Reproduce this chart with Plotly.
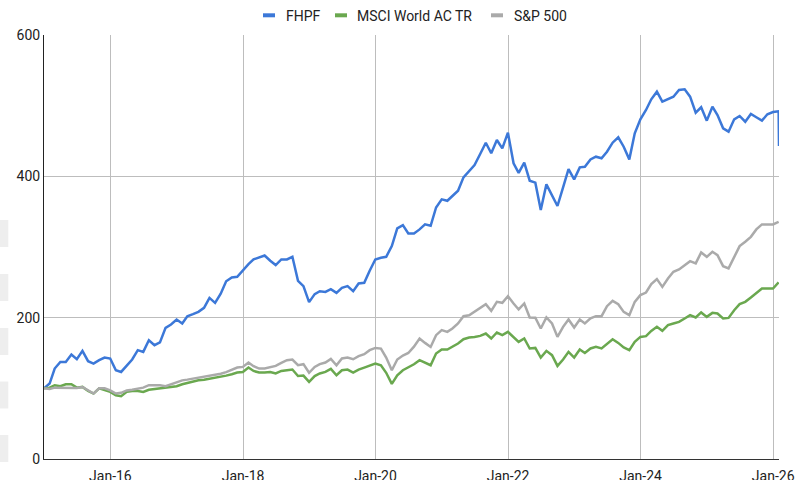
import pandas as pd
import plotly.graph_objects as go

# ---------------- data ----------------
series_names = ["FHPF", "MSCI World AC TR", "S&P 500"]
start_date = "2014-12-31"
n_months = 134
extra_date = "2026-02-02"

fhpf = [100, 106.8, 128, 137.4, 137.4, 147.8, 141.2, 153, 138.4, 135, 139.8, 143.6,
        142.2, 125.6, 123.2, 132.7, 140.8, 154, 151.6, 168, 161, 164.9, 185.6, 190.3,
        197.4, 191.8, 202, 205, 208.2, 213.9, 228, 221, 234, 251.5, 257, 257.8,
        267.3, 275.8, 282.4, 285.2, 288, 280.5, 274.4, 282.4, 282.4, 286.1, 252.1, 244.6,
        222, 233.3, 237.5, 236.5, 240.4, 235.1, 242.2, 244.6, 237.5, 248.4, 249.3, 266.3,
        282.4, 284.7, 286.1, 301.3, 326.3, 331, 319.2, 319.2, 324.9, 332, 330, 356,
        367.4, 365.4, 372.5, 379.6, 398.6, 408, 416, 431.6, 447.6, 432.6, 451.4, 439.6,
        461.8, 418.4, 405, 419.3, 393.8, 391, 352.3, 388.7, 373.5, 358, 384.4, 410.3,
        395.7, 412.7, 413.6, 424, 427.8, 425.5, 434.8, 447.6, 455.2, 441.9, 424, 460.9,
        480.7, 493.9, 509, 519.8, 505.7, 509, 512.7, 522.2, 523.2, 512.7, 490, 497.7,
        478.8, 498.6, 486.8, 468, 463.2, 480.7, 485.4, 477.3, 488.2, 483.6, 478.8, 487.8,
        491, 492]
fhpf_extra = 443

msci = [100, 101, 104.4, 103, 105.8, 105.8, 101, 102, 96.3, 92.6, 100, 98,
        95, 90.2, 88.8, 95, 96.3, 96.3, 95, 98, 99, 99, 100, 101,
        103, 105.8, 107.7, 109, 111.3, 112.3, 113.7, 115, 116, 118, 120, 122.3,
        123.2, 129.4, 124.6, 122.3, 122.3, 123.2, 121, 124.6, 125.6, 126.6, 117.4, 118,
        109.2, 117.4, 121, 123.2, 127.5, 118.5, 125.6, 126.6, 122.3, 126.6, 129.4, 132.7,
        135, 132.7, 122, 106.3, 118.5, 125.6, 129.4, 134.1, 139.8, 136, 132.7, 149.3,
        155, 155, 158.6, 163.4, 169.5, 172, 172.8, 174.2, 177.6, 170.5, 179, 175.2,
        179.9, 172.8, 165.7, 170.5, 156.4, 157.2, 143.6, 153, 146.9, 131.7, 140.8, 151.6,
        143.6, 155, 150.1, 156.4, 158.6, 156.4, 163.4, 169.5, 164.3, 157.8, 154, 165.7,
        172.8, 173.8, 181.3, 187, 181.3, 189.4, 191.8, 194, 198.9, 203.5, 200.3, 207.4,
        201.1, 206.8, 205.9, 198.9, 199.7, 210.6, 219.1, 222.4, 228.6, 235.1, 241.3, 241.3,
        241.3, 249.9]

sp500 = [100, 99, 101, 101, 101, 101, 100.5, 101.9, 97, 92.6, 100, 100,
         97, 92.6, 93.6, 97, 98, 100, 101, 104.4, 104.4, 104.4, 103, 105.8,
         109, 111.3, 112.3, 113.7, 115, 116, 118.4, 119.8, 120.7, 123, 126.6, 129.4,
         130.3, 136.5, 131.3, 128, 128, 130.3, 131.7, 136, 139.8, 140.8, 132.7, 134.2,
         122, 130.3, 134.2, 136.5, 141.6, 132.7, 142.3, 143.6, 141.2, 145.5, 148.3, 154,
         157.2, 156.3, 143.6, 125.6, 140.8, 146.4, 150, 159, 170.5, 164.3, 158.6, 175.2,
         182.3, 179.9, 184.7, 191.8, 202.1, 203.5, 208.2, 213, 219.1, 209.6, 222.4, 221,
         230.4, 220.1, 211.6, 220.1, 200.3, 200, 184.7, 200.3, 191.8, 172.8, 187, 197.4,
         186.1, 197.4, 191.8, 198.9, 202.1, 202.1, 216.3, 223.8, 219.1, 208.2, 203.5, 222.4,
         231.9, 235.6, 247.4, 254.5, 243.6, 255.5, 264.9, 268.3, 274.4, 280, 276.8, 292.3,
         286.1, 293.2, 288.5, 272.9, 269.7, 286.1, 301.3, 307.4, 314.4, 324.9, 332, 332,
         332, 335.7]

tick_dates = ["2016-01-01", "2018-01-01", "2020-01-01", "2022-01-01", "2024-01-01", "2026-01-01"]
tick_labels = ["Jan-16", "Jan-18", "Jan-20", "Jan-22", "Jan-24", "Jan-26"]
y_ticks = [0, 200, 400, 600]

# ---------------- styling ----------------
colors = ["#3c78d8", "#6aa84f", "#aaaaaa"]
W, H = 798, 480
L, R, T, B = 44, 19, 35, 21
PW, PH = W - L - R, H - T - B
FONT = "Roboto, Arial, sans-serif"
TXT = "#222222"


def px2x(px):
    return (px - L) / PW


def py2y(py):
    return 1 - (py - T) / PH


dates = list(pd.date_range(start_date, periods=n_months, freq="ME"))
fhpf_dates = dates + [pd.Timestamp(extra_date)]

fig = go.Figure()
fig.add_trace(go.Scatter(x=fhpf_dates, y=fhpf + [fhpf_extra], mode="lines", name=series_names[0],
                         line=dict(color=colors[0], width=2.5), showlegend=False))
fig.add_trace(go.Scatter(x=dates, y=msci, mode="lines", name=series_names[1],
                         line=dict(color=colors[1], width=2.5), showlegend=False))
fig.add_trace(go.Scatter(x=dates, y=sp500, mode="lines", name=series_names[2],
                         line=dict(color=colors[2], width=2.5), showlegend=False))

shapes = []
annotations = []
# custom legend
legend_pos = [(263, 285), (335, 356), (491, 513)]
for (bx, tx), name, c in zip(legend_pos, series_names, colors):
    shapes.append(dict(type="rect", xref="paper", yref="paper",
                       x0=px2x(bx), x1=px2x(bx + 12), y0=py2y(17.3), y1=py2y(13.3),
                       fillcolor=c, line=dict(width=0), layer="above"))
    annotations.append(dict(xref="paper", yref="paper", x=px2x(tx - 1), y=py2y(16),
                            xanchor="left", yanchor="middle", showarrow=False,
                            text=name, font=dict(family=FONT, size=14, color=TXT)))

# faint grey blocks at the left page edge
for y0 in [220, 274, 328, 381.5, 435]:
    shapes.append(dict(type="rect", xref="paper", yref="paper",
                       x0=px2x(0), x1=px2x(8.3), y0=py2y(y0 + 27), y1=py2y(y0),
                       fillcolor="#eeeeee", line=dict(width=0), layer="below"))

fig.update_layout(
    width=W, height=H,
    margin=dict(l=L, r=R, t=T, b=B, pad=0, autoexpand=False),
    paper_bgcolor="white", plot_bgcolor="white",
    font=dict(family=FONT, size=14, color=TXT),
    shapes=shapes, annotations=annotations,
    showlegend=False,
)
fig.update_xaxes(
    range=[pd.Timestamp(start_date), pd.Timestamp(extra_date)],
    tickvals=[pd.Timestamp(d) for d in tick_dates], ticktext=tick_labels,
    showgrid=True, gridcolor="#bdbdbd", gridwidth=1,
    showline=True, linecolor="#333333", linewidth=1,
    ticks="outside", ticklen=4, tickcolor="rgba(0,0,0,0)",
    tickfont=dict(family=FONT, size=14, color=TXT),
    zeroline=False, automargin=False,
)
fig.update_yaxes(
    range=[0, 600], tickvals=y_ticks,
    showgrid=True, gridcolor="#bdbdbd", gridwidth=1,
    showline=True, linecolor="#222222", linewidth=1,
    ticks="",
    tickfont=dict(family=FONT, size=14, color=TXT),
    zeroline=False, automargin=False,
)

fig.write_html(
    "out.html",
    config={"displayModeBar": False},
    post_script="document.body.style.margin='0';document.body.style.overflow='hidden';",
)
